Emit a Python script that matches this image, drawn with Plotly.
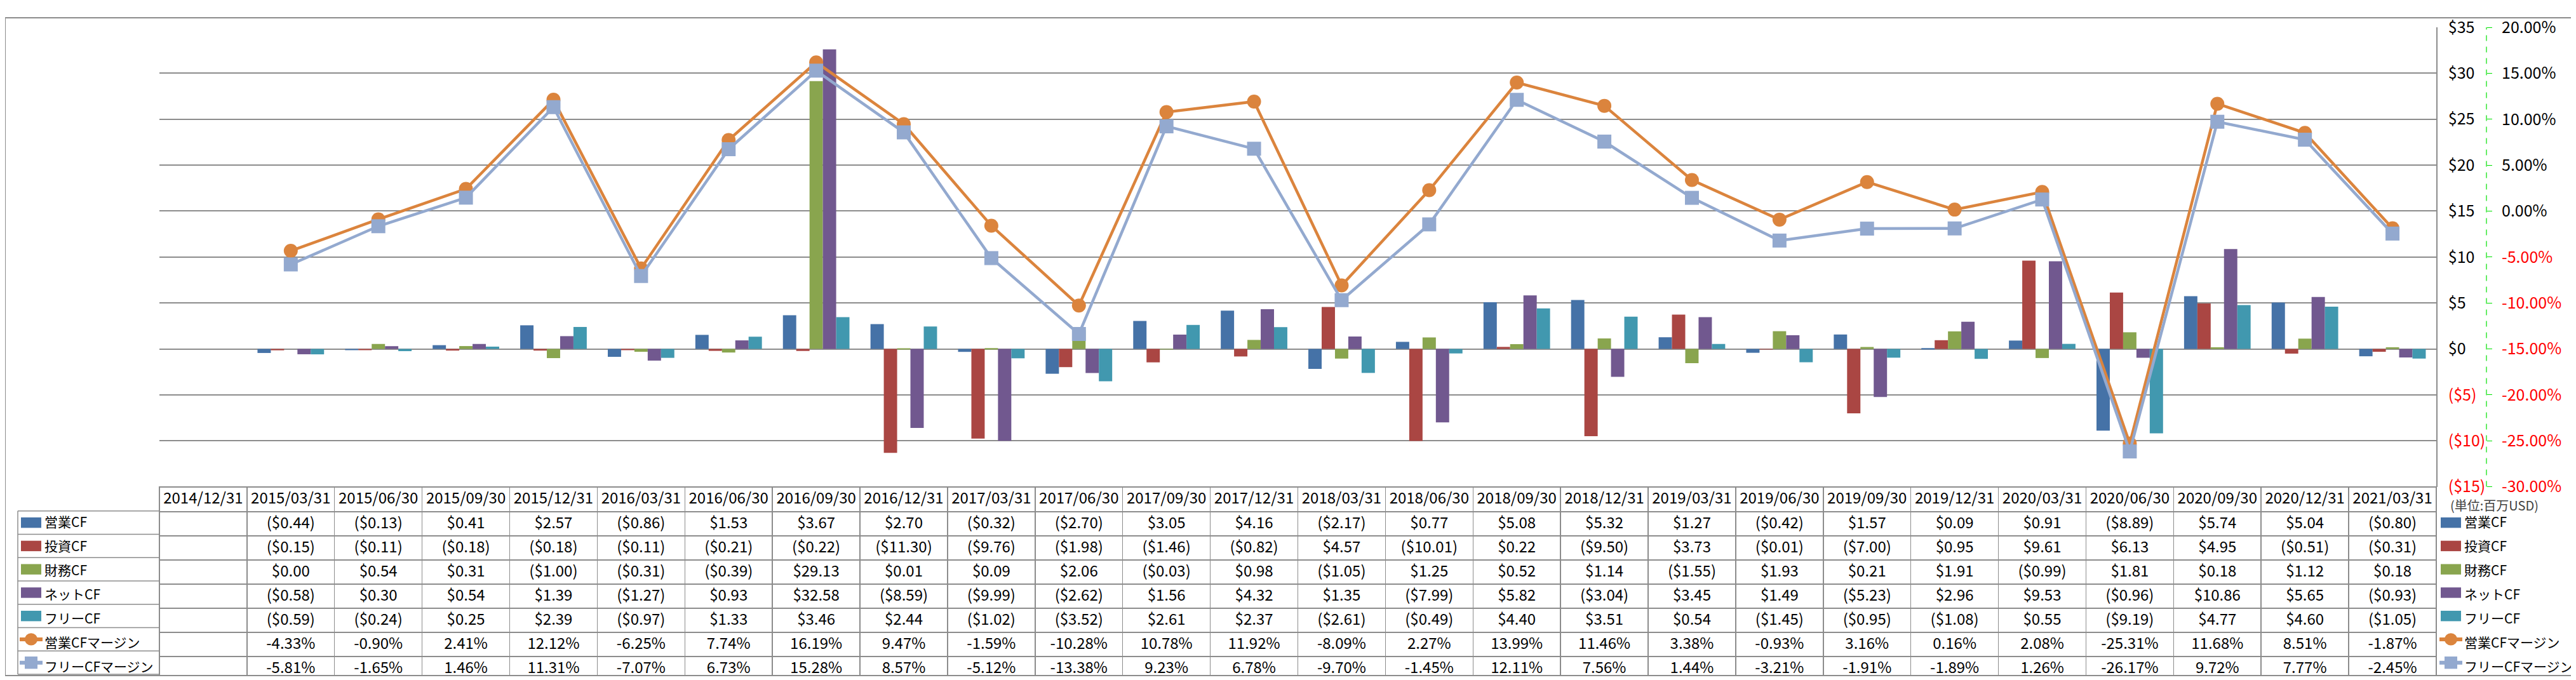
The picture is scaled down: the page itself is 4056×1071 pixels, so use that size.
import plotly.graph_objects as go

W, H = 4056, 1071

dates = ["2014/12/31", "2015/03/31", "2015/06/30", "2015/09/30", "2015/12/31",
         "2016/03/31", "2016/06/30", "2016/09/30", "2016/12/31", "2017/03/31",
         "2017/06/30", "2017/09/30", "2017/12/31", "2018/03/31", "2018/06/30",
         "2018/09/30", "2018/12/31", "2019/03/31", "2019/06/30", "2019/09/30",
         "2019/12/31", "2020/03/31", "2020/06/30", "2020/09/30", "2020/12/31",
         "2021/03/31"]

op_cf = [None, -0.44, -0.13, 0.41, 2.57, -0.86, 1.53, 3.67, 2.70, -0.32, -2.70, 3.05, 4.16,
         -2.17, 0.77, 5.08, 5.32, 1.27, -0.42, 1.57, 0.09, 0.91, -8.89, 5.74, 5.04, -0.80]
inv_cf = [None, -0.15, -0.11, -0.18, -0.18, -0.11, -0.21, -0.22, -11.30, -9.76, -1.98, -1.46, -0.82,
          4.57, -10.01, 0.22, -9.50, 3.73, -0.01, -7.00, 0.95, 9.61, 6.13, 4.95, -0.51, -0.31]
fin_cf = [None, 0.00, 0.54, 0.31, -1.00, -0.31, -0.39, 29.13, 0.01, 0.09, 2.06, -0.03, 0.98,
          -1.05, 1.25, 0.52, 1.14, -1.55, 1.93, 0.21, 1.91, -0.99, 1.81, 0.18, 1.12, 0.18]
net_cf = [None, -0.58, 0.30, 0.54, 1.39, -1.27, 0.93, 32.58, -8.59, -9.99, -2.62, 1.56, 4.32,
          1.35, -7.99, 5.82, -3.04, 3.45, 1.49, -5.23, 2.96, 9.53, -0.96, 10.86, 5.65, -0.93]
free_cf = [None, -0.59, -0.24, 0.25, 2.39, -0.97, 1.33, 3.46, 2.44, -1.02, -3.52, 2.61, 2.37,
           -2.61, -0.49, 4.40, 3.51, 0.54, -1.45, -0.95, -1.08, 0.55, -9.19, 4.77, 4.60, -1.05]
op_margin = [None, -4.33, -0.90, 2.41, 12.12, -6.25, 7.74, 16.19, 9.47, -1.59, -10.28, 10.78, 11.92,
             -8.09, 2.27, 13.99, 11.46, 3.38, -0.93, 3.16, 0.16, 2.08, -25.31, 11.68, 8.51, -1.87]
free_margin = [None, -5.81, -1.65, 1.46, 11.31, -7.07, 6.73, 15.28, 8.57, -5.12, -13.38, 9.23, 6.78,
               -9.70, -1.45, 12.11, 7.56, 1.44, -3.21, -1.91, -1.89, 1.26, -26.17, 9.72, 7.77, -2.45]

bar_names = ["営業CF", "投資CF", "財務CF", "ネットCF", "フリーCF"]
line_names = ["営業CFマージン", "フリーCFマージン"]
usd_ticks = [-15, -10, -5, 0, 5, 10, 15, 20, 25, 30, 35]
pct_ticks = [-30, -25, -20, -15, -10, -5, 0, 5, 10, 15, 20]
unit_label = "(単位:百万USD)"

bar_colors = ["#4572A7", "#AA4643", "#89A54E", "#71588F", "#4198AF"]
line_colors = ["#DB843D", "#93A9CF"]
FONT = "Noto Sans CJK JP"
GRID = "#8C8C8C"
RED = "#FF0000"


def px(x):
    return x / W


def py(y):
    return 1 - y / H


def fmt_usd(v):
    if v is None:
        return ""
    return f"${v:.2f}" if v >= 0 else f"(${abs(v):.2f})"


def fmt_pct(v):
    if v is None:
        return ""
    return f"{v:.2f}%"


def usd_tick(v):
    if v < 0:
        return f'<span style="color:{RED}">(${abs(v)})</span>'
    return f"${v}"


def pct_tick(v):
    if v < 0:
        return f'<span style="color:{RED}">{v:.2f}%</span>'
    return f"{v:.2f}%"


fig = go.Figure()

bar_series = [op_cf, inv_cf, fin_cf, net_cf, free_cf]
for name, vals, col in zip(bar_names, bar_series, bar_colors):
    fig.add_trace(go.Bar(x=dates, y=vals, name=name, marker=dict(color=col, line=dict(width=0)),
                         yaxis="y"))

line_series = [op_margin, free_margin]
symbols = ["circle", "square"]
for name, vals, col, sym in zip(line_names, line_series, line_colors, symbols):
    fig.add_trace(go.Scatter(x=dates, y=vals, name=name, mode="lines+markers", yaxis="y2",
                             line=dict(color=col, width=4.5),
                             marker=dict(symbol=sym, size=22, color=col, line=dict(width=0))))

# ---- data table below the plot ----
n = len(dates)
row_labels = bar_names + line_names
key_colors = bar_colors + line_colors
key_kinds = ["bar"] * len(bar_names) + symbols

columns = [[""] * len(row_labels), row_labels]
for i in range(n):
    columns.append([fmt_usd(s[i]) for s in bar_series] + [fmt_pct(s[i]) for s in line_series])

PLOT_L, PLOT_R, PLOT_T, PLOT_B = 243, 3828, 15, 764
x0, x1 = px(PLOT_L), px(PLOT_R)
y0, y1 = py(PLOT_B), py(PLOT_T)
tab_left = 20
header_h, row_h = 39, 38
tab_top = PLOT_B
key_w = 34
leg_left = 3830

fig.add_trace(go.Table(
    domain=dict(x=[px(tab_left), x1], y=[0.0, y0]),
    columnwidth=[key_w, PLOT_L - tab_left - key_w] + [137.9] * n,
    header=dict(values=["", ""] + dates, height=header_h, fill=dict(color="white"),
                line=dict(color=["white", "white"] + [GRID] * n, width=1.5),
                font=dict(family=FONT, size=24, color="black"), align="center"),
    cells=dict(values=columns, height=row_h, fill=dict(color="white"),
               line=dict(color=["white", "white"] + [GRID] * n, width=1.5),
               font=dict(family=FONT, size=[24, 21] + [24] * n, color="black"),
               align=["center", "left"] + ["center"] * n),
))

# legend at the right, row-aligned with the table
fig.add_trace(go.Table(
    domain=dict(x=[px(leg_left), px(4052)], y=[0.0, y0]),
    columnwidth=[key_w, 4052 - leg_left - key_w],
    header=dict(values=["", ""], height=header_h, fill=dict(color="rgba(0,0,0,0)"),
                line=dict(color="rgba(0,0,0,0)", width=0),
                font=dict(family=FONT, size=20, color="black")),
    cells=dict(values=[[""] * len(row_labels), row_labels], height=row_h,
               fill=dict(color="rgba(0,0,0,0)"),
               line=dict(color="rgba(0,0,0,0)", width=0),
               font=dict(family=FONT, size=21, color="black"),
               align=["center", "left"]),
))

shapes = []
# borders around the row-label column (which the table leaves white)
for r in range(len(row_labels) + 1):
    yy = py(tab_top + header_h + r * row_h)
    shapes.append(dict(type="line", xref="paper", yref="paper", x0=px(tab_left), x1=x0, y0=yy, y1=yy,
                       line=dict(color=GRID, width=1.5)))
shapes.append(dict(type="line", xref="paper", yref="paper", x0=px(tab_left), x1=px(tab_left),
                   y0=py(tab_top + header_h), y1=py(tab_top + header_h + len(row_labels) * row_h),
                   line=dict(color=GRID, width=1.5)))

# legend keys (table rows on the left, legend on the right)
for kx in (tab_left + 4, leg_left + 4):
    for r, (kind, col) in enumerate(zip(key_kinds, key_colors)):
        cy = tab_top + header_h + (r + 0.5) * row_h
        if kind == "bar":
            shapes.append(dict(type="rect", xref="paper", yref="paper", x0=px(kx + 1), x1=px(kx + 33),
                               y0=py(cy + 8.5), y1=py(cy - 8.5), fillcolor=col, line=dict(width=0)))
        else:
            shapes.append(dict(type="line", xref="paper", yref="paper", x0=px(kx - 1), x1=px(kx + 35),
                               y0=py(cy), y1=py(cy), line=dict(color=col, width=6)))
            stype = "circle" if kind == "circle" else "rect"
            shapes.append(dict(type=stype, xref="paper", yref="paper", x0=px(kx + 7), x1=px(kx + 27),
                               y0=py(cy + 10), y1=py(cy - 10), fillcolor=col, line=dict(width=0)))

shapes += [
    dict(type="line", xref="paper", yref="y2", x0=px(3907), x1=px(3907), y0=-30, y1=20,
         line=dict(color="#00E000", width=1.2, dash="dash")),
    dict(type="rect", xref="paper", yref="paper", x0=0, x1=1, y0=0, y1=1,
         line=dict(color=GRID, width=2)),
]

fig.update_layout(
    width=W, height=H,
    margin=dict(l=0, r=0, t=0, b=0),
    paper_bgcolor="white", plot_bgcolor="white",
    font=dict(family=FONT, size=24, color="black"),
    barmode="group", bargap=0.24, bargroupgap=0,
    showlegend=False,
    xaxis=dict(domain=[x0, x1], type="category", range=[-0.5, n - 0.5],
               showticklabels=False, showgrid=False, zeroline=False, showline=False, ticks=""),
    yaxis=dict(range=[-15.02, 35.02], tickvals=usd_ticks, ticktext=[usd_tick(v) for v in usd_ticks],
               domain=[y0, y1], side="right", anchor="x",
               showgrid=True, gridcolor=GRID, gridwidth=1.5, zeroline=False,
               showline=True, linecolor=GRID, linewidth=1.5, ticks="",
               ticklabelstandoff=12, ticklabeloverflow="allow", tickfont=dict(size=25)),
    yaxis2=dict(range=[-30.04, 20.04], tickvals=pct_ticks, ticktext=[pct_tick(v) for v in pct_ticks],
                overlaying="y", side="right", anchor="free", position=px(3907),
                showgrid=False, zeroline=False, showline=False,
                ticks="outside", ticklen=8, tickwidth=1, tickcolor="#00E000",
                ticklabelstandoff=10, ticklabeloverflow="allow", tickfont=dict(size=25)),
    annotations=[
        dict(text=unit_label, xref="paper", yref="paper", x=px(3848), y=py(793),
             xanchor="left", yanchor="middle", showarrow=False,
             font=dict(family=FONT, size=20, color="#404040")),
    ],
    shapes=shapes,
)

fig.write_html("out.html")
